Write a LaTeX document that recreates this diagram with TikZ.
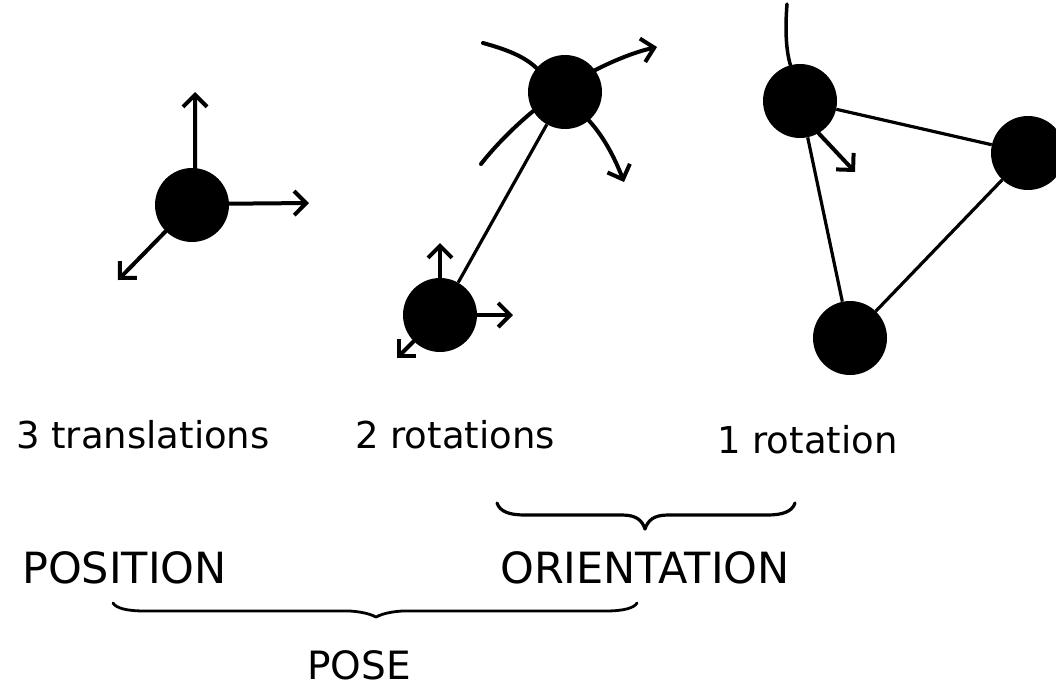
\documentclass[tikz,border=0pt]{standalone}
\usepackage{fontspec}
\setmainfont{DejaVu Sans}
\usetikzlibrary{arrows.meta}
\begin{document}
\begin{tikzpicture}[x=1pt,y=-1pt,
  ball/.style={circle,fill=black,minimum size=74pt,inner sep=0pt},
  axis/.style={line width=4pt,line cap=round,line join=round,
    -{Straight Barb[length=12pt,width=24pt]}},
  link/.style={line width=3.2pt},
  curl/.style={line width=4pt,line cap=round},
  brace/.style={line width=3.2pt,line cap=round,line join=round},
  lbl/.style={anchor=base west,inner sep=0pt,font=\fontsize{37}{44}\selectfont},
  biglbl/.style={anchor=base west,inner sep=0pt,font=\fontsize{43}{52}\selectfont}]

\clip (0,0) rectangle (1056,689);

% point masses
\node[ball] (t)  at (192,205) {};
\node[ball] (m1) at (565,92)  {};
\node[ball] (m2) at (440,315) {};
\node[ball] (r1) at (800,101) {};
\node[ball] (r2) at (1028,153) {};
\node[ball] (r3) at (850,338) {};

% free body: three translation axes
\coordinate (tU) at (195,92);
\coordinate (tR) at (309,203);
\coordinate (tD) at (118,280);
\draw[axis] (t.85)  -- (tU);
\draw[axis] (t.2)   -- (tR);
\draw[axis] (t.225) -- (tD);

% two linked masses
\draw[link] (m2) -- (m1);
\coordinate (mU) at (440,243);
\coordinate (mR) at (513,315);
\coordinate (mD) at (397,358);
\draw[axis] (m2.90)  -- (mU);
\draw[axis] (m2.0)   -- (mR);
\draw[axis] (m2.225) -- (mD);

% rotations about the upper mass
\coordinate (c1) at (483,43);
\coordinate (a1) at (657,47);
\coordinate (c2) at (481,164);
\coordinate (a2) at (624,182);
\draw[curl] (c1) .. controls (505,49) and (524,56) .. (m1.140);
\draw[axis] (m1.36) .. controls (615,60) and (635,52) .. (a1);
\draw[curl] (m1.211) .. controls (515,126) and (495,146) .. (c2);
\draw[axis] (m1.310) .. controls (603,136) and (614,156) .. (a2);

% three linked masses
\draw[link] (r1) -- (r2);
\draw[link] (r1) -- (r3);
\draw[link] (r2) -- (r3);
\coordinate (c3) at (787,4);
\coordinate (a3) at (855,172);
\draw[curl,line width=3.5pt] (c3) .. controls (785,30) and (786,50) .. (r1.105);
\draw[axis] (r1.300) -- (a3);

% captions
\node[lbl] (l3) at (16,448) {3 translations};
\node[lbl] (l2) at (355,448) {2 rotations};
\node[lbl] (l1) at (717,453) {1 rotation};
\node[biglbl] (pos) at (22,583) {POSITION};
\node[biglbl] (ori) at (500,583) {ORIENTATION};
\node[lbl,font=\fontsize{39}{46}\selectfont] (pose) at (307,679) {POSE};

% brace under the rotations
\coordinate (o1) at (497,503);
\coordinate (o2) at (795,503);
\draw[brace] (o1) .. controls (500,512) and (510,515) .. (525,515)
  -- (622,515) .. controls (636,515) and (642,520) .. (645,529)
  .. controls (648,520) and (654,515) .. (668,515)
  -- (767,515) .. controls (782,515) and (792,512) .. (o2);

% brace spanning position and orientation
\coordinate (p1) at (113,603);
\coordinate (p2) at (637,603);
\draw[brace,line width=2.8pt] (p1) .. controls (116,608) and (126,611) .. (145,611)
  -- (350,611) .. controls (365,612) and (372,615) .. (376,617)
  .. controls (380,615) and (387,612) .. (402,611)
  -- (605,611) .. controls (624,611) and (634,608) .. (p2);
\end{tikzpicture}
\end{document}
